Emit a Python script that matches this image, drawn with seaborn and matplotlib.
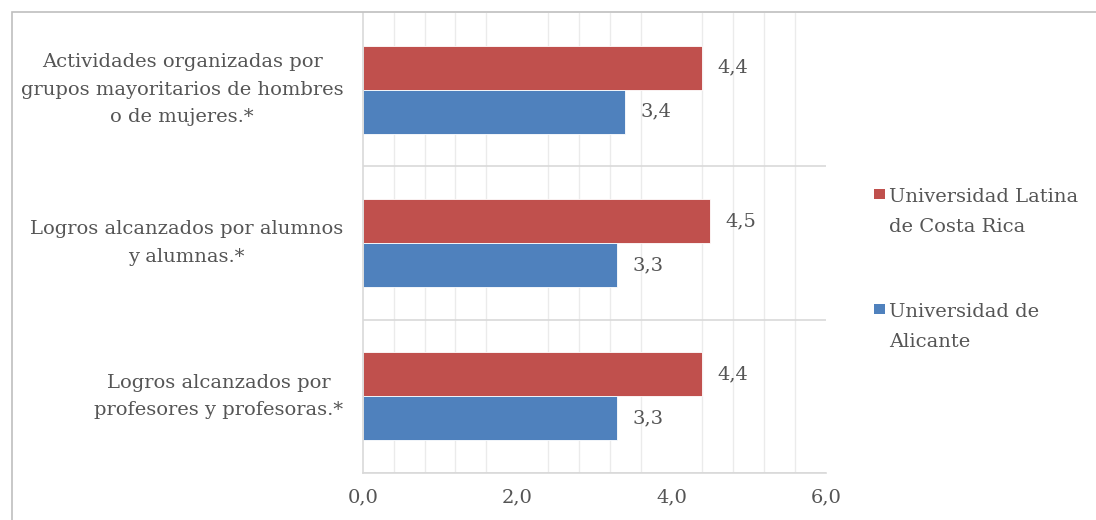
import matplotlib
matplotlib.use("Agg")
import matplotlib.pyplot as plt
from matplotlib.patches import Rectangle
from matplotlib.legend_handler import HandlerPatch
import numpy as np
import pandas as pd
import seaborn as sns

categories = [
    "Actividades organizadas por\ngrupos mayoritarios de hombres\no de mujeres.*",
    "Logros alcanzados por alumnos\ny alumnas.*",
    "Logros alcanzados por\nprofesores y profesoras.*",
]
series_names = ["Universidad Latina\nde Costa Rica", "Universidad de\nAlicante"]
latina_values = [4.4, 4.5, 4.4]
alicante_values = [3.4, 3.3, 3.3]
x_ticks = [0.0, 2.0, 4.0, 6.0]

colors = {series_names[0]: "#C0504D", series_names[1]: "#4F81BD"}
text_color = "#555555"
font = "DejaVu Serif"
fs = 14

df = pd.DataFrame({
    "categoria": categories * 2,
    "serie": [series_names[0]] * 3 + [series_names[1]] * 3,
    "valor": latina_values + alicante_values,
})

sns.set_theme(style="white")
plt.rcParams["font.family"] = [font]

fig = plt.figure(figsize=(10.96, 5.2), dpi=100)
ax = fig.add_axes([0.331, 0.0904, 0.4225, 0.8846])

sns.barplot(data=df, x="valor", y="categoria", hue="serie", order=categories,
            hue_order=series_names, palette=colors, orient="h", width=0.575,
            ax=ax, saturation=1, edgecolor="white", linewidth=0.6)

ax.set_xlim(0, 6)
ax.set_ylim(2.5, -0.5)
ax.set_xticks(x_ticks)
ax.set_xticklabels([f"{t:.1f}".replace(".", ",") for t in x_ticks],
                   fontsize=fs, color=text_color)
ax.set_xticks(np.arange(0, 6.01, 0.4), minor=True)
ax.tick_params(axis="x", which="both", length=0, pad=11)
ax.tick_params(axis="y", length=0, pad=14)
for lbl in ax.get_yticklabels():
    lbl.set_multialignment("center")
    lbl.set_verticalalignment("center")
    lbl.set_fontsize(fs)
    lbl.set_color(text_color)
    lbl.set_linespacing(1.68)

ax.xaxis.grid(True, which="minor", color="#EBEBEB", linewidth=1)
ax.set_yticks([0.5, 1.5, 2.5], minor=True)
ax.yaxis.grid(True, which="minor", color="#D9D9D9", linewidth=1.2)
ax.set_axisbelow(True)
for side in ["top", "right"]:
    ax.spines[side].set_visible(False)
for side in ["left", "bottom"]:
    ax.spines[side].set_color("#D9D9D9")
    ax.spines[side].set_linewidth(1.2)
ax.set_xlabel("")
ax.set_ylabel("")

for container in ax.containers:
    ax.bar_label(container, labels=[f"{v:.1f}".replace(".", ",") for v in container.datavalues],
                 padding=11, fontsize=fs, color=text_color)


class TopSquareHandler(HandlerPatch):
    def create_artists(self, legend, orig_handle, xdescent, ydescent, width, height,
                       fontsize, trans):
        size = 0.55 * fontsize
        p = Rectangle((-xdescent + width - size,
                       -ydescent + height / 2 - size / 2 + 0.93 * fontsize),
                      size, size, facecolor=orig_handle.get_facecolor(),
                      edgecolor="none", transform=trans)
        return [p]


handles = [Rectangle((0, 0), 1, 1, facecolor=colors[s]) for s in series_names]
ax.get_legend().remove()
leg = fig.legend(handles, series_names, loc="upper left", bbox_to_anchor=(0.781, 0.673),
                 frameon=False, fontsize=fs, labelcolor=text_color,
                 handlelength=0.6, handleheight=0.7, handletextpad=0.2,
                 labelspacing=3.42,
                 handler_map={Rectangle: TopSquareHandler()})
for t in leg.get_texts():
    t.set_linespacing(1.9)

fig.patches.append(Rectangle((12 / 1096, -0.1), 1.2, 1 - 12 / 520 + 0.1,
                             transform=fig.transFigure, fill=False,
                             edgecolor="#BFBFBF", linewidth=1.2))

fig.savefig("out.png", dpi=100, facecolor="white")
